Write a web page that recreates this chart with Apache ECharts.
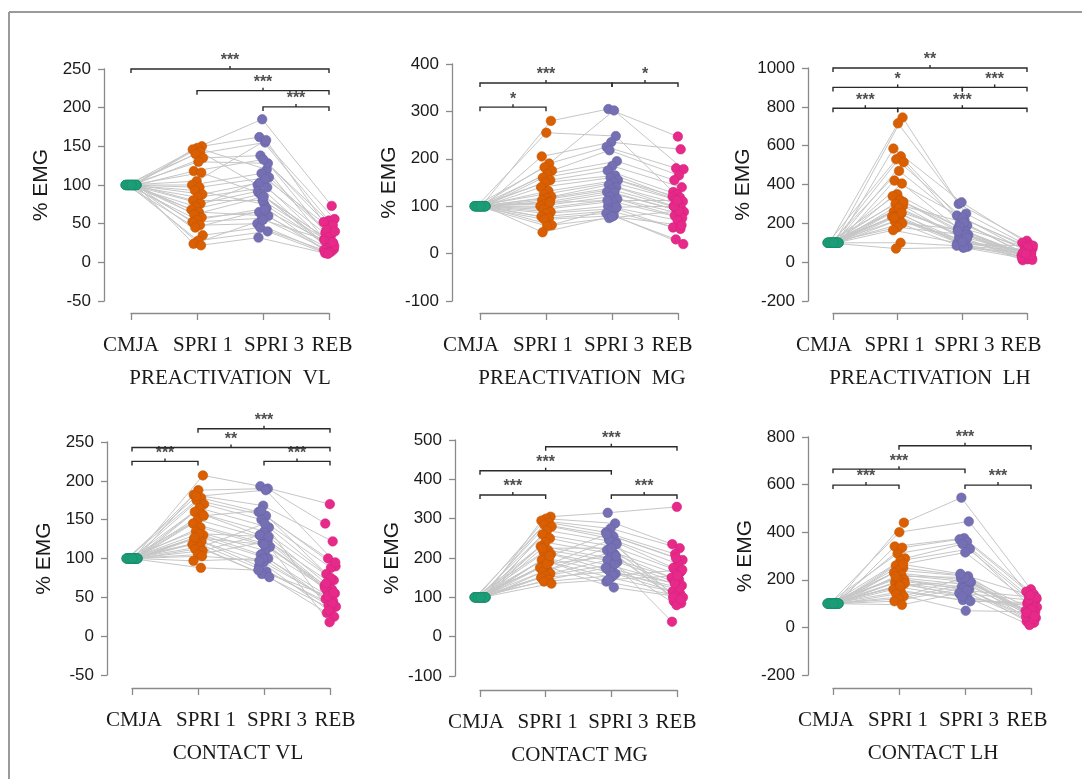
<!DOCTYPE html>
<html><head><meta charset="utf-8">
<script src="https://cdn.jsdelivr.net/npm/echarts@6/dist/echarts.min.js"></script>
<style>html,body{margin:0;padding:0;background:#fff}#chart{width:1082px;height:779px}</style>
</head><body><div id="chart"></div>
<script>
// ---------------- DATA ----------------
const categories = ['CMJA', 'SPRI 1', 'SPRI 3', 'REB'];
const panelTitles = ['PREACTIVATION  VL', 'PREACTIVATION  MG', 'PREACTIVATION  LH', 'CONTACT VL', 'CONTACT MG', 'CONTACT LH'];
const yAxisMin = [-50, -100, -200, -50, -100, -200];
const yAxisMax = [250, 400, 1000, 250, 500, 800];
const yAxisStep = [50, 100, 200, 50, 100, 200];

// CMJA is the 100 % reference for every subject
const cmjaValues = [100,100,100,100,100,100,100,100,100,100,100,100,100,100,100,100,100,100,100,100,100,100,100,100,100,100,100,100,100,100];

const preVL_spri1 = [150,148,146,143,140,135,130,118,116,105,100,97,93,88,84,80,76,72,68,65,62,58,55,52,48,45,35,28,24,22];
const preVL_spri3 = [162,120,185,100,155,138,128,133,90,158,115,110,75,103,97,80,92,108,88,60,85,65,70,57,50,68,45,40,55,32];
const preVL_reb   = [54,30,73,20,56,45,38,48,22,52,35,42,17,33,28,24,19,40,27,15,25,18,16,14,12,21,13,12,26,11];

const preMG_spri1 = [280,255,205,190,182,175,168,160,155,150,140,132,125,120,117,113,110,105,100,97,93,88,85,78,75,72,60,58,45,108];
const preMG_spri3 = [305,248,235,225,302,218,195,185,175,165,160,155,150,145,140,135,130,128,120,115,110,100,95,90,85,80,75,98,78,112];
const preMG_reb   = [247,130,220,180,178,165,155,140,125,120,118,115,110,105,100,95,92,88,85,80,75,70,55,52,30,20,90,100,60,112];

const preLH_spri1 = [745,715,585,545,530,515,470,420,405,350,340,320,300,290,275,260,250,240,235,220,210,200,180,165,100,70,310,280,230,255];
const preLH_spri3 = [300,250,308,240,220,200,190,230,175,160,150,140,205,130,120,110,100,90,115,80,75,170,140,95,85,75,180,125,105,160];
const preLH_reb   = [110,100,90,80,70,60,50,45,40,35,30,25,20,15,10,55,65,85,30,28,45,38,22,18,60,12,75,50,35,42];

const conVL_spri1 = [207,188,182,178,175,170,165,160,157,150,145,140,135,130,128,125,122,120,118,115,112,110,105,97,88,180,155,132,127,103];
const conVL_spri3 = [193,190,168,160,155,150,140,135,130,125,120,115,110,105,100,95,90,83,80,76,145,130,122,100,85,188,162,128,118,97];
const conVL_reb   = [170,145,122,100,90,88,80,72,70,65,60,58,55,50,48,45,40,38,35,30,25,18,62,42,52,95,75,68,56,33];

const conMG_spri1 = [305,300,295,290,285,280,270,260,250,240,230,220,215,210,200,195,190,180,175,170,165,160,155,150,145,140,135,185,225,205];
const conMG_spri3 = [315,288,275,265,255,250,240,230,220,210,200,190,180,170,160,150,140,125,245,235,215,195,185,165,175,155,145,205,225,260];
const conMG_reb   = [330,235,225,210,195,185,175,165,160,150,145,140,130,120,115,110,105,100,95,90,85,80,38,125,135,170,155,100,95,200];

const conLH_spri1 = [440,400,340,335,310,290,280,260,250,240,230,220,210,200,195,190,180,170,160,150,140,130,120,110,95,205,185,175,215,265];
const conLH_spri3 = [545,445,375,370,360,350,330,315,220,215,200,190,180,170,160,150,140,125,115,110,70,205,185,165,145,155,130,195,210,225];
const conLH_reb   = [160,150,140,130,120,110,100,90,80,70,60,50,40,30,25,20,10,85,95,105,65,55,45,35,115,125,75,62,48,135];

// significance brackets: [from category, to category, height, label]
const preVL_brackets = [[1,4,250,'***'],[2,4,222,'***'],[3,4,201,'***']];
const preMG_brackets = [[1,3,360,'***'],[3,4,360,'*'],[1,2,309,'*']];
const preLH_brackets = [[1,4,1000,'**'],[1,3,900,'*'],[3,4,900,'***'],[1,2,793,'***'],[2,4,793,'***']];
const conVL_brackets = [[2,4,267,'***'],[1,4,243,'**'],[1,2,225,'***'],[3,4,225,'***']];
const conMG_brackets = [[2,4,483,'***'],[1,3,422,'***'],[1,2,360,'***'],[3,4,360,'***']];
const conLH_brackets = [[2,4,763,'***'],[1,3,665,'***'],[1,2,598,'***'],[3,4,598,'***']];

const panelData = [
  [cmjaValues, preVL_spri1, preVL_spri3, preVL_reb, preVL_brackets],
  [cmjaValues, preMG_spri1, preMG_spri3, preMG_reb, preMG_brackets],
  [cmjaValues, preLH_spri1, preLH_spri3, preLH_reb, preLH_brackets],
  [cmjaValues, conVL_spri1, conVL_spri3, conVL_reb, conVL_brackets],
  [cmjaValues, conMG_spri1, conMG_spri3, conMG_reb, conMG_brackets],
  [cmjaValues, conLH_spri1, conLH_spri3, conLH_reb, conLH_brackets]
];

// ---------------- LAYOUT / STYLE ----------------
// [gridLeft (first tick), gridTop (max), gridWidth, gridHeight, yAxisLineX, xAxisLineY]
const layout = [
  [131, 69, 198, 232, 104, 313],
  [480, 64, 198, 237, 452, 313],
  [833, 68, 194, 233, 808, 313],
  [132, 442, 198, 233, 107, 688],
  [480, 440, 197, 236, 455, 690],
  [833, 437, 198, 238, 808, 688]
];
const labelShiftItem = [0, 6, 11, 3];
const labelShiftPanel = [0, -9, -9, 2, -4, -7];
const titleShift = [0, 3, 0, 7, 1, 1];
const colors = ['#1B9E77', '#D95F02', '#7570B3', '#E7298A'];
const borders = ['#178a68', '#c45502', '#6964a6', '#d4247d'];
const sans = "'Liberation Sans', Arial, sans-serif";
const serif = "'Liberation Serif', 'Times New Roman', serif";

const grids = [], xAxes = [], yAxes = [], series = [];

function jitter(k, c) {
  const f = ((k + 1) * 0.6180339887 + c * 0.29) % 1;
  return (f - 0.5) * 2;
}

layout.forEach((L, p) => {
  const [gl, gt, gw, gh, yx, xy] = L;
  grids.push({left: gl, top: gt, width: gw, height: gh, containLabel: false});
  const rich = {};
  categories.forEach((c, i) => {
    const d = labelShiftItem[i] + labelShiftPanel[p];
    rich['c' + i] = {fontFamily: serif, fontSize: 21, color: '#1a1a1a',
      padding: d >= 0 ? [0, 0, 0, 2 * d] : [0, -2 * d, 0, 0]};
  });
  const ts = titleShift[p];
  xAxes.push({
    type: 'value', gridIndex: p, min: 1, max: 4, interval: 1,
    position: 'bottom', offset: xy - (gt + gh),
    splitLine: {show: false},
    axisLine: {show: true, onZero: false, lineStyle: {color: '#8a8a8a', width: 1.3}},
    axisTick: {show: true, length: 7, lineStyle: {color: '#8a8a8a', width: 1.3}},
    axisLabel: {margin: 22, formatter: v => '{c' + (v - 1) + '|' + categories[v - 1] + '}', rich: rich},
    name: panelTitles[p], nameLocation: 'middle', nameGap: 55,
    nameTextStyle: {fontFamily: serif, fontSize: 21, color: '#1a1a1a',
      padding: ts >= 0 ? [0, 0, 0, 2 * ts] : [0, -2 * ts, 0, 0]}
  });
  yAxes.push({
    type: 'value', gridIndex: p, min: yAxisMin[p], max: yAxisMax[p], interval: yAxisStep[p],
    position: 'left', offset: gl - yx,
    splitLine: {show: false},
    axisLine: {show: true, onZero: false, lineStyle: {color: '#8a8a8a', width: 1.3}},
    axisTick: {show: true, length: 6, lineStyle: {color: '#8a8a8a', width: 1.3}},
    axisLabel: {margin: 13, fontFamily: sans, fontSize: 17, color: '#1a1a1a', formatter: v => String(v)},
    name: '% EMG', nameLocation: 'middle', nameGap: 52,
    nameTextStyle: {fontFamily: sans, fontSize: 21, color: '#1a1a1a'}
  });

  const pd = panelData[p];
  const vals = pd.slice(0, 4);
  const jw = 6 * 3 / gw;
  const n = vals[0].length;
  const coordsOf = k => vals.map((arr, c) => [c + 1 + jitter(k, c) * jw, arr[k]]);
  const lineData = [];
  for (let k = 0; k < n; k++) lineData.push({coords: coordsOf(k)});
  series.push({
    type: 'lines', coordinateSystem: 'cartesian2d', xAxisIndex: p, yAxisIndex: p,
    polyline: true, silent: true, clip: false, data: lineData,
    lineStyle: {color: '#c6c6c6', width: 1, opacity: 1}, z: 1
  });
  vals.forEach((arr, c) => {
    const pts = arr.map((v, k) => [c + 1 + jitter(k, c) * jw, v]);
    series.push({
      type: 'scatter', xAxisIndex: p, yAxisIndex: p, clip: false, silent: true,
      symbol: 'circle', symbolSize: 9.5, data: pts,
      itemStyle: {color: colors[c], borderColor: borders[c], borderWidth: 0.6, opacity: 1}, z: 2
    });
  });
  // brackets
  const br = pd[4];
  const unit = (yAxisMax[p] - yAxisMin[p]) / gh;
  const drop = 4 * unit, up = 3 * unit;
  const bLines = [], bLabels = [];
  br.forEach(b => {
    const [a, e, h, lab] = b;
    const m = (a + e) / 2;
    bLines.push({coords: [[a, h - drop], [a, h], [e, h], [e, h - drop]]});
    bLines.push({coords: [[m, h], [m, h + up]]});
    bLabels.push({value: [m, h + up], name: lab});
  });
  series.push({
    type: 'lines', coordinateSystem: 'cartesian2d', xAxisIndex: p, yAxisIndex: p,
    polyline: true, silent: true, clip: false, data: bLines,
    lineStyle: {color: '#2a2a2a', width: 1.4, opacity: 1}, z: 3
  });
  series.push({
    type: 'scatter', xAxisIndex: p, yAxisIndex: p, clip: false, silent: true,
    symbolSize: 0, data: bLabels,
    label: {show: true, position: 'top', distance: -3, formatter: '{b}',
      fontFamily: sans, fontSize: 16, fontWeight: 'bold', color: '#222'}, z: 3
  });
});

const chart = echarts.init(document.getElementById('chart'), null, {renderer: 'canvas'});
chart.setOption({
  backgroundColor: '#ffffff',
  animation: false,
  grid: grids, xAxis: xAxes, yAxis: yAxes, series: series,
  graphic: [
    {type: 'line', shape: {x1: 9, y1: 12, x2: 1082, y2: 12}, style: {stroke: '#9a9a9a', lineWidth: 2}},
    {type: 'line', shape: {x1: 9, y1: 12, x2: 9, y2: 779}, style: {stroke: '#9a9a9a', lineWidth: 2}}
  ]
});
</script>
</body></html>
